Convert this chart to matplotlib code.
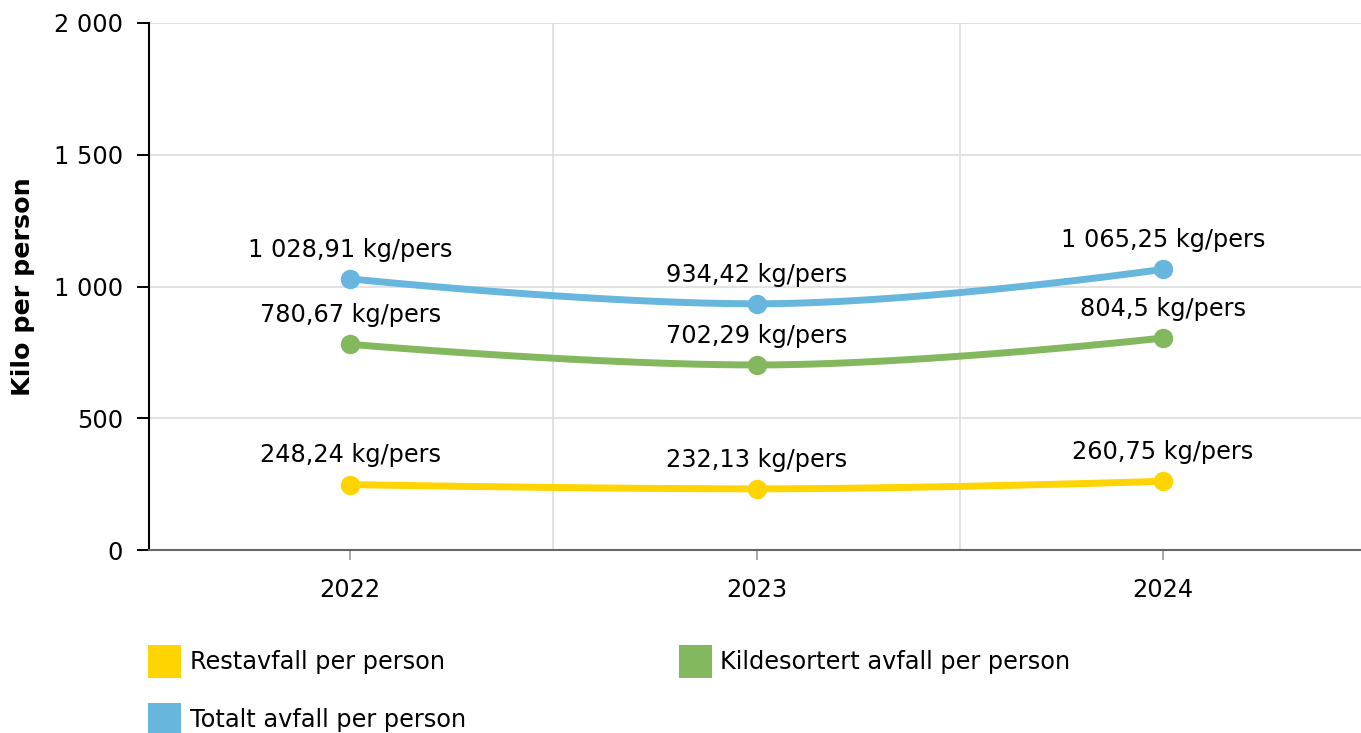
import numpy as np
import matplotlib
matplotlib.use("Agg")
import matplotlib.pyplot as plt
from matplotlib.patches import Rectangle

# ---- data ----
years = ["2022", "2023", "2024"]
restavfall = [248.24, 232.13, 260.75]
kildesortert = [780.67, 702.29, 804.5]
totalt = [1028.91, 934.42, 1065.25]
series_names = ["Restavfall per person", "Kildesortert avfall per person", "Totalt avfall per person"]
colors = ["#FFD400", "#83B85F", "#66B6DD"]
y_ticks = [0, 500, 1000, 1500, 2000]


def fmt_num(v):
    s = f"{v:,.2f}".rstrip("0").rstrip(".")
    return s.replace(",", " ").replace(".", ",")


def fmt_tick(v):
    return f"{int(v):,}".replace(",", " ")


def spline(xs, ys, smoothing=1.5, n=60):
    xs = list(map(float, xs)); ys = list(map(float, ys))
    N = len(xs)
    lc = [None] * N
    rc = [None] * N
    d = smoothing + 1
    for i in range(1, N - 1):
        px, py = xs[i], ys[i]
        lx, ly = xs[i - 1], ys[i - 1]
        nx, ny = xs[i + 1], ys[i + 1]
        lcx = (smoothing * px + lx) / d
        lcy = (smoothing * py + ly) / d
        rcx = (smoothing * px + nx) / d
        rcy = (smoothing * py + ny) / d
        if rcx != lcx:
            corr = ((rcy - lcy) * (rcx - px)) / (rcx - lcx) + py - rcy
            lcy += corr
            rcy += corr
        if lcy > ly and lcy > py:
            lcy = max(ly, py); rcy = 2 * py - lcy
        elif lcy < ly and lcy < py:
            lcy = min(ly, py); rcy = 2 * py - lcy
        if rcy > ny and rcy > py:
            rcy = max(ny, py); lcy = 2 * py - rcy
        elif rcy < ny and rcy < py:
            rcy = min(ny, py); lcy = 2 * py - rcy
        lc[i] = (lcx, lcy)
        rc[i] = (rcx, rcy)
    outx, outy = [xs[0]], [ys[0]]
    t = np.linspace(0, 1, n)[1:]
    for i in range(1, N):
        p0 = (xs[i - 1], ys[i - 1])
        p1 = rc[i - 1] if rc[i - 1] else p0
        p3 = (xs[i], ys[i])
        p2 = lc[i] if lc[i] else p3
        bx = (1 - t) ** 3 * p0[0] + 3 * (1 - t) ** 2 * t * p1[0] + 3 * (1 - t) * t ** 2 * p2[0] + t ** 3 * p3[0]
        by = (1 - t) ** 3 * p0[1] + 3 * (1 - t) ** 2 * t * p1[1] + 3 * (1 - t) * t ** 2 * p2[1] + t ** 3 * p3[1]
        outx.extend(bx); outy.extend(by)
    return np.array(outx), np.array(outy)


W, H = 1361, 733
plt.rcParams["font.family"] = ["DejaVu Sans"]
fig = plt.figure(figsize=(W / 100, H / 100), dpi=100)
ax = fig.add_axes([149 / W, 1 - 550 / H, (1361 - 149) / W, (550 - 23) / H])

x = np.arange(len(years))
FS = 17.3
for vals, col in zip([restavfall, kildesortert, totalt], colors):
    sx, sy = spline(x, vals)
    ax.plot(sx, sy, color=col, lw=5.0, solid_capstyle="round", zorder=3)
    ax.plot(x, vals, "o", color=col, ms=14, mec="none", zorder=4)
    for xi, v in zip(x, vals):
        ax.annotate(f"{fmt_num(v)} kg/pers", (xi, v), xytext=(0, 16), textcoords="offset points",
                    ha="center", va="baseline", fontsize=FS, color="#000000", zorder=5)

ax.set_xlim(-0.495, 2.487)
ax.set_ylim(0, 2000)
ax.set_yticks(y_ticks)
ax.set_yticklabels([fmt_tick(v) for v in y_ticks], fontsize=FS)
ax.set_xticks(x)
ax.set_xticklabels(years, fontsize=FS)
ax.set_xticks([0.5, 1.5], minor=True)

ax.grid(axis="y", which="major", color="#DDDDDD", lw=1.2, zorder=0)
ax.grid(axis="x", which="minor", color="#DDDDDD", lw=1.2, zorder=0)
ax.tick_params(axis="x", which="minor", length=0)
ax.tick_params(axis="y", length=8.6, width=1.4, color="#000000", pad=10)
ax.tick_params(axis="x", which="major", length=7, width=1.2, color="#999999", pad=13)
ax.set_axisbelow(True)

for s in ["top", "right"]:
    ax.spines[s].set_visible(False)
ax.spines["left"].set_color("#000000")
ax.spines["left"].set_linewidth(1.5)
ax.spines["bottom"].set_color("#666666")
ax.spines["bottom"].set_linewidth(1.5)

ax.set_ylabel("Kilo per person", fontsize=18.3, fontweight="bold")
ax.yaxis.set_label_coords(-(149 - 35) / (1361 - 149), 0.5)

# legend
legend_items = [(148, 645, 190), (679, 645, 720), (148, 703, 190)]
for (lx, ly, tx), name, col in zip(legend_items, series_names, colors):
    fig.add_artist(Rectangle((lx / W, 1 - (ly + 33) / H), 33 / W, 33 / H, transform=fig.transFigure,
                             facecolor=col, edgecolor="none"))
    fig.text(tx / W, 1 - (ly + 17) / H, name, fontsize=FS, va="center", ha="left", color="#000000")

fig.savefig("out.png", dpi=100)
